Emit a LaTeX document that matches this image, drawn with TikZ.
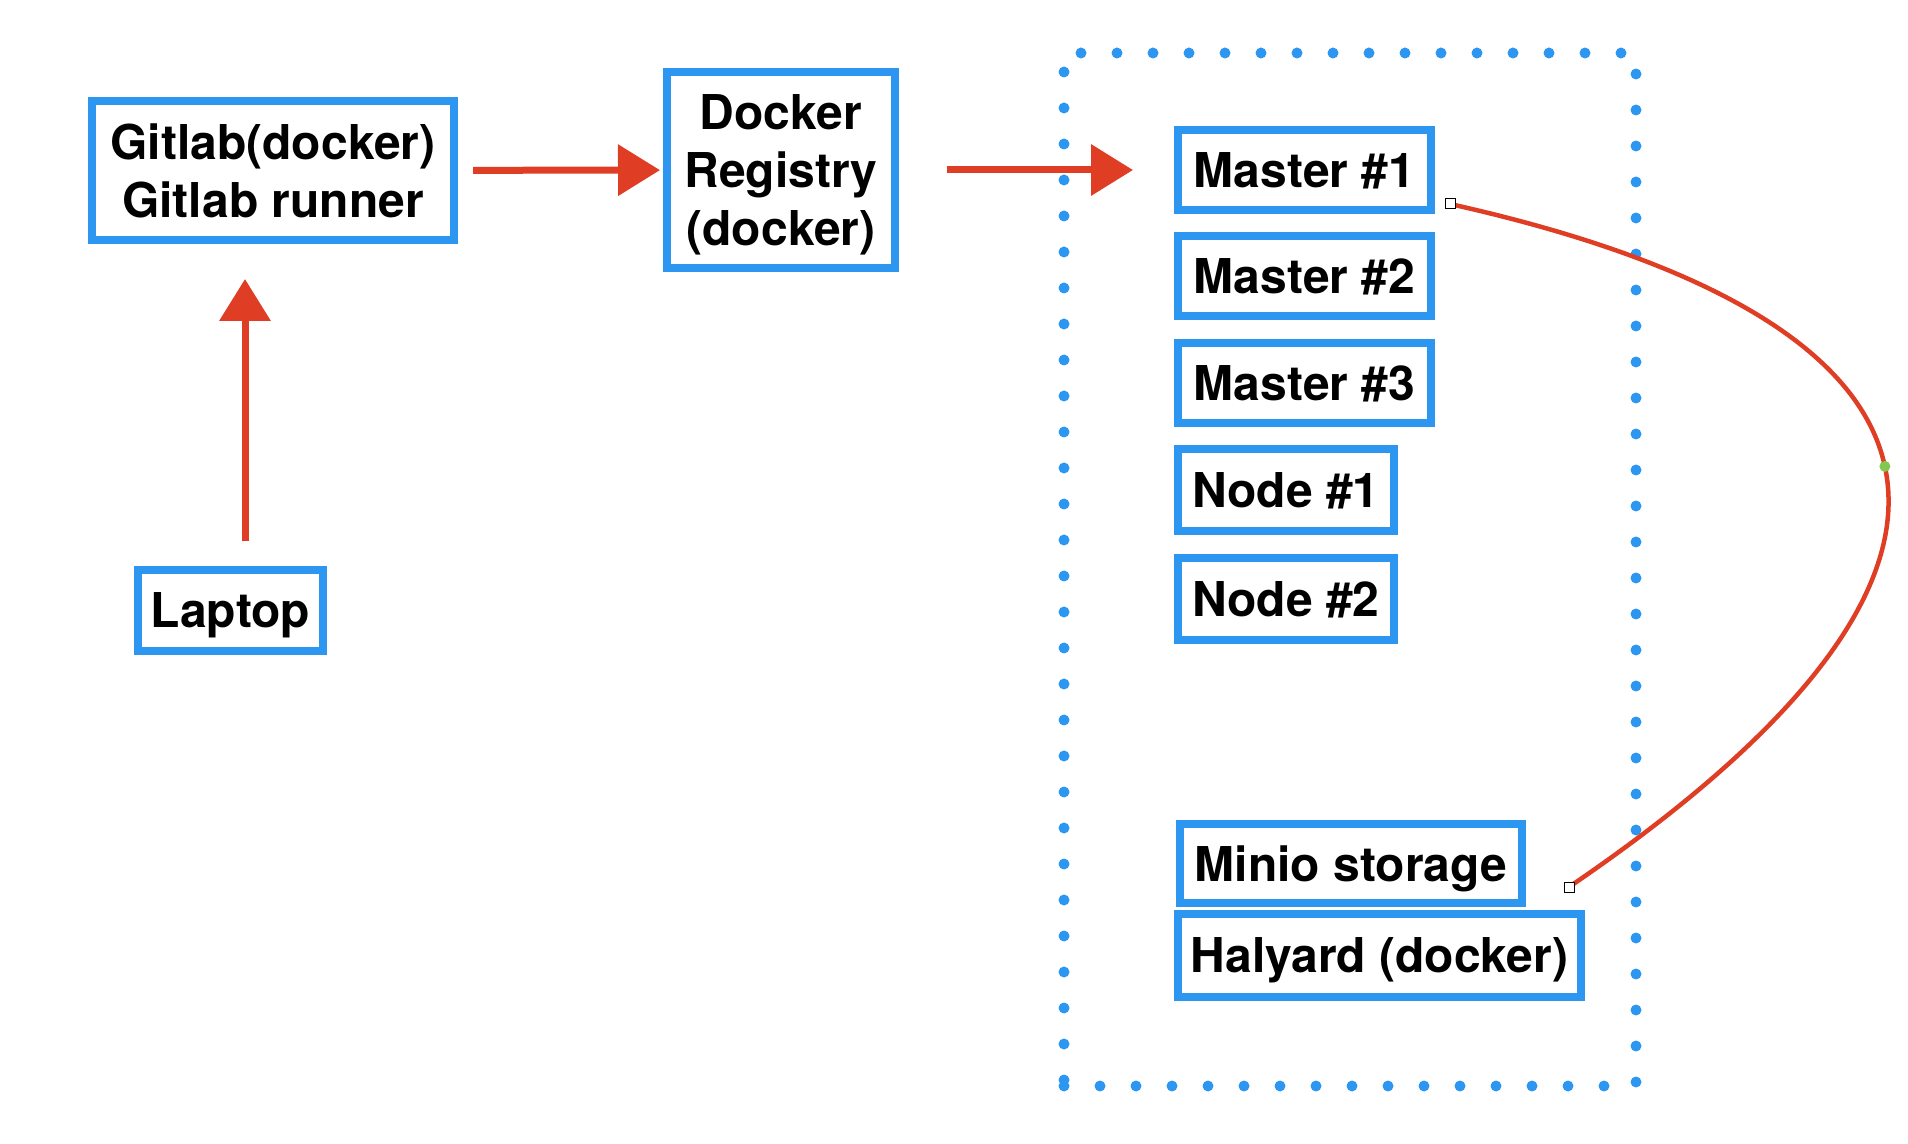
\documentclass[tikz,border=0pt]{standalone}
\usepackage{fontspec}
\setmainfont{TeX Gyre Heros}
\usetikzlibrary{arrows.meta,positioning}

\definecolor{sketchblue}{RGB}{44,150,240}
\definecolor{sketchred}{RGB}{224,62,36}
\definecolor{handlegreen}{RGB}{130,200,80}

\begin{document}
\begin{tikzpicture}[
    x=0.5pt, y=-0.5pt,
    box/.style={draw=sketchblue, line width=4pt, inner sep=3pt, text depth=0pt, align=center, font=\fontsize{24}{29}\selectfont\bfseries},
    master/.style={box, minimum width=126.5pt, minimum height=40pt},
    worker/.style={box, minimum width=108pt, minimum height=41pt},
    cluster/.style={draw=sketchblue, line width=5.5pt, line cap=round, dash pattern=on 0pt off 18pt, minimum width=286pt, minimum height=516.5pt},
    arrow/.style={-{Triangle[length=21pt, width=25pt]}, line width=3.5pt, sketchred},
    link/.style={sketchred, line width=2.25pt},
    handle/.style={draw=black, fill=white, line width=0.5pt, minimum size=5pt, inner sep=0pt},
    midpoint/.style={circle, fill=handlegreen, minimum size=5.5pt, inner sep=0pt}
]

\useasboundingbox (0,0) rectangle (1908,1144);

% Cluster frame (dotted)
\node[cluster] (cluster) at (1350,569.5) {};

% Build side
\node[box, minimum width=181pt, minimum height=69.5pt] (gitlab) at (273,170.5) {Gitlab(docker)\\Gitlab runner};
\node[box, minimum width=114pt, minimum height=98pt] (registry) at (781,170) {Docker\\Registry\\(docker)};
\node[box, minimum width=92.5pt, minimum height=40.5pt] (laptop) at (230.5,610.5) {Laptop};

% Masters and nodes
\node[master] (master1) at (1304.5,170) {Master \#1};
\node[master, below=9.25pt of master1] (master2) {Master \#2};
\node[master, below=9.25pt of master2] (master3) {Master \#3};
\node[worker, below right=9.25pt and 0pt of master3.south west] (node1) {Node \#1};
\node[worker, below=9.25pt of node1] (node2) {Node \#2};

% Storage
\node[box, minimum width=171pt, minimum height=39.5pt] (minio) at (1351,863.5) {Minio storage};
\node[box, minimum width=201.5pt, minimum height=41.5pt, below right=1.5pt and -1pt of minio.south west] (halyard) {Halyard (docker)};

% Pipeline arrows
\draw[arrow, shorten <=7.5pt, shorten >=1.5pt] (gitlab) -- (registry);
\draw[arrow, shorten <=24pt, shorten >=20.5pt] (registry) -- (master1);
\draw[arrow, shorten <=12.5pt, shorten >=17.5pt] ([xshift=7.25pt]laptop.north) -- ([xshift=7.25pt]laptop.north |- gitlab.south);

% Curved link master -> storage
\coordinate (linkstart) at ([shift={(7.5pt,-17pt)}]master1.east);
\coordinate (linkend) at ([shift={(21.5pt,-11.75pt)}]minio.east);
\draw[link] (linkstart) .. controls +(260pt,-58pt) and +(240.5pt,163.5pt) .. (linkend) node[midpoint, pos=0.5] (bend) {};
\node[handle] (handlestart) at (linkstart) {};
\node[handle] (handleend) at (linkend) {};

\end{tikzpicture}
\end{document}
